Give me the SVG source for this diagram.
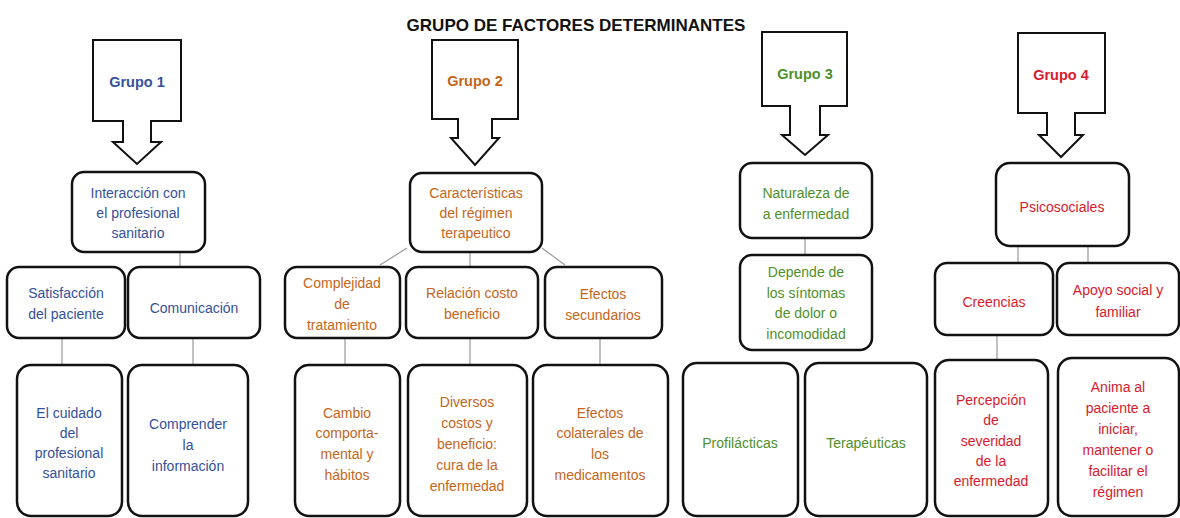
<svg xmlns="http://www.w3.org/2000/svg" width="1180" height="518" viewBox="0 0 1180 518">
<style>
.bg{fill:#ffffff}
.box{fill:#ffffff;stroke:#111111;stroke-width:2.5}
.arr{fill:#ffffff;stroke:#111111;stroke-width:2;stroke-linejoin:miter}
.con{stroke:#9a9a9a;stroke-width:1.2;fill:none}
text{font-family:"Liberation Sans",Arial,sans-serif;font-size:14px;text-anchor:middle}
.title{font-size:17px;font-weight:bold;fill:#111111}
.gl{font-size:14.5px;font-weight:bold}
.c1{fill:#34519a}
.c2{fill:#c4661a}
.c3{fill:#4f8f2a}
.c4{fill:#d81a2c}
</style>
<rect class="bg" x="0" y="0" width="1180" height="518"/>
<text class="title" x="576" y="31">GRUPO DE FACTORES DETERMINANTES</text>

<g id="connectors">
<line class="con" x1="180" y1="252" x2="180" y2="267"/>
<line class="con" x1="62" y1="338" x2="62" y2="365"/>
<line class="con" x1="193" y1="338" x2="193" y2="365"/>
<line class="con" x1="407" y1="248" x2="380" y2="265"/>
<line class="con" x1="470" y1="252" x2="470" y2="267"/>
<line class="con" x1="542" y1="248" x2="565" y2="265"/>
<line class="con" x1="345" y1="338" x2="345" y2="365"/>
<line class="con" x1="470" y1="338" x2="470" y2="365"/>
<line class="con" x1="600" y1="338" x2="600" y2="365"/>
<line class="con" x1="805" y1="238" x2="805" y2="255"/>
<line class="con" x1="1018" y1="246" x2="1018" y2="263"/>
<line class="con" x1="1088" y1="246" x2="1088" y2="263"/>
<line class="con" x1="997" y1="335" x2="997" y2="360"/>
</g>

<g id="grupo1">
<polygon class="arr" points="93,40 181,40 181,121 151,121 151,142 161,142 137,164 113,142 123,142 123,121 93,121"/>
<text class="gl c1" x="137" y="87">Grupo 1</text>
</g>
<g id="grupo2">
<polygon class="arr" points="432,40 518,40 518,119 492,119 492,138 499,138 475,165 451,138 458,138 458,119 432,119"/>
<text class="gl c2" x="475" y="86">Grupo 2</text>
</g>
<g id="grupo3">
<polygon class="arr" points="762,32 847,32 847,106 820,106 820,135 828,135 805,155 782,135 790,135 790,106 762,106"/>
<text class="gl c3" x="805" y="79">Grupo 3</text>
</g>
<g id="grupo4">
<polygon class="arr" points="1018,33 1105,33 1105,113 1075,113 1075,135 1083,135 1061,157 1039,135 1047,135 1047,113 1018,113"/>
<text class="gl c4" x="1061" y="80">Grupo 4</text>
</g>

<g id="interaccion">
<rect class="box" x="72" y="172" width="133" height="80" rx="12"/>
<text class="c1" x="138" y="198">Interacción con</text>
<text class="c1" x="138" y="218">el profesional</text>
<text class="c1" x="138" y="238">sanitario</text>
</g>
<g id="satisfaccion">
<rect class="box" x="7" y="267" width="118" height="71" rx="12"/>
<text class="c1" x="66" y="298">Satisfacción</text>
<text class="c1" x="66" y="319">del paciente</text>
</g>
<g id="comunicacion">
<rect class="box" x="128" y="267" width="132" height="71" rx="12"/>
<text class="c1" x="194" y="313">Comunicación</text>
</g>
<g id="cuidado">
<rect class="box" x="17" y="365" width="105" height="151" rx="14"/>
<text class="c1" x="69" y="418">El cuidado</text>
<text class="c1" x="69" y="438">del</text>
<text class="c1" x="69" y="458">profesional</text>
<text class="c1" x="69" y="478">sanitario</text>
</g>
<g id="comprender">
<rect class="box" x="128" y="365" width="120" height="151" rx="14"/>
<text class="c1" x="188" y="429">Comprender</text>
<text class="c1" x="188" y="450">la</text>
<text class="c1" x="188" y="471">información</text>
</g>

<g id="caracteristicas">
<rect class="box" x="410" y="173" width="132" height="79" rx="12"/>
<text class="c2" x="476" y="198">Características</text>
<text class="c2" x="476" y="218">del régimen</text>
<text class="c2" x="476" y="238">terapeutico</text>
</g>
<g id="complejidad">
<rect class="box" x="285" y="267" width="115" height="71" rx="12"/>
<text class="c2" x="342" y="288">Complejidad</text>
<text class="c2" x="342" y="309">de</text>
<text class="c2" x="342" y="330">tratamiento</text>
</g>
<g id="relacion">
<rect class="box" x="406" y="267" width="132" height="71" rx="12"/>
<text class="c2" x="472" y="298">Relación costo</text>
<text class="c2" x="472" y="319">beneficio</text>
</g>
<g id="efectos">
<rect class="box" x="545" y="267" width="117" height="71" rx="12"/>
<text class="c2" x="603" y="299">Efectos</text>
<text class="c2" x="603" y="320">secundarios</text>
</g>
<g id="cambio">
<rect class="box" x="295" y="365" width="105" height="151" rx="14"/>
<text class="c2" x="347" y="418">Cambio</text>
<text class="c2" x="347" y="438">comporta-</text>
<text class="c2" x="347" y="459">mental y</text>
<text class="c2" x="347" y="480">hábitos</text>
</g>
<g id="diversos">
<rect class="box" x="408" y="365" width="119" height="151" rx="14"/>
<text class="c2" x="467" y="407">Diversos</text>
<text class="c2" x="467" y="428">costos y</text>
<text class="c2" x="467" y="449">beneficio:</text>
<text class="c2" x="467" y="470">cura de la</text>
<text class="c2" x="467" y="491">enfermedad</text>
</g>
<g id="colaterales">
<rect class="box" x="533" y="365" width="135" height="151" rx="14"/>
<text class="c2" x="600" y="418">Efectos</text>
<text class="c2" x="600" y="438">colaterales de</text>
<text class="c2" x="600" y="459">los</text>
<text class="c2" x="600" y="480">medicamentos</text>
</g>

<g id="naturaleza">
<rect class="box" x="740" y="163" width="132" height="75" rx="12"/>
<text class="c3" x="806" y="198">Naturaleza de</text>
<text class="c3" x="806" y="219">a enfermedad</text>
</g>
<g id="depende">
<rect class="box" x="740" y="255" width="132" height="95" rx="12"/>
<text class="c3" x="806" y="277">Depende de</text>
<text class="c3" x="806" y="298">los síntomas</text>
<text class="c3" x="806" y="318">de dolor o</text>
<text class="c3" x="806" y="339">incomodidad</text>
</g>
<g id="profilacticas">
<rect class="box" x="683" y="363" width="115" height="153" rx="14"/>
<text class="c3" x="740" y="448">Profilácticas</text>
</g>
<g id="terapeuticas">
<rect class="box" x="805" y="363" width="122" height="153" rx="14"/>
<text class="c3" x="866" y="448">Terapéuticas</text>
</g>

<g id="psicosociales">
<rect class="box" x="996" y="163" width="133" height="83" rx="14"/>
<text class="c4" x="1062" y="212">Psicosociales</text>
</g>
<g id="creencias">
<rect class="box" x="935" y="263" width="118" height="72" rx="12"/>
<text class="c4" x="994" y="307">Creencias</text>
</g>
<g id="apoyo">
<rect class="box" x="1057" y="263" width="122" height="72" rx="12"/>
<text class="c4" x="1118" y="295">Apoyo social y</text>
<text class="c4" x="1118" y="317">familiar</text>
</g>
<g id="percepcion">
<rect class="box" x="935" y="360" width="113" height="156" rx="14"/>
<text class="c4" x="991" y="405">Percepción</text>
<text class="c4" x="991" y="425">de</text>
<text class="c4" x="991" y="446">severidad</text>
<text class="c4" x="991" y="466">de la</text>
<text class="c4" x="991" y="486">enfermedad</text>
</g>
<g id="anima">
<rect class="box" x="1058" y="358" width="121" height="158" rx="14"/>
<text class="c4" x="1118" y="392">Anima al</text>
<text class="c4" x="1118" y="413">paciente a</text>
<text class="c4" x="1118" y="434">iniciar,</text>
<text class="c4" x="1118" y="455">mantener o</text>
<text class="c4" x="1118" y="476">facilitar el</text>
<text class="c4" x="1118" y="497">régimen</text>
</g>
</svg>
